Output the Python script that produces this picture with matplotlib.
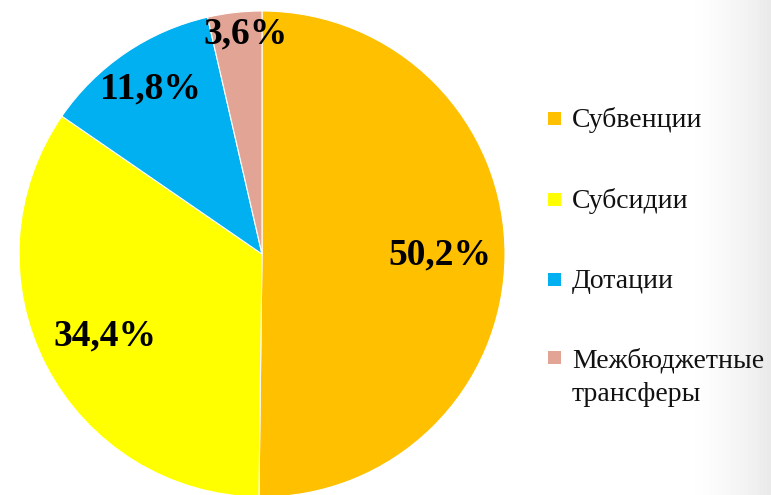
import numpy as np
import matplotlib
matplotlib.use('Agg')
import matplotlib.pyplot as plt
from matplotlib.patches import Rectangle

# Данные
categories = ['Субвенции', 'Субсидии', 'Дотации', 'Межбюджетные\nтрансферы']
shares = [50.2, 34.4, 11.8, 3.6]
pct_labels = ['50,2%', '34,4%', '11,8%', '3,6%']
colors = ['#FFC000', '#FFFF00', '#00B0F0', '#E2A495']
label_dist = [0.73, 0.73, 0.82, 0.91]

plt.rcParams['font.family'] = ['Liberation Serif', 'DejaVu Serif']

W, H = 771, 495
fig = plt.figure(figsize=(W / 100, H / 100), dpi=100)

# лёгкая серая тень у правого края
bg = fig.add_axes([0, 0, 1, 1], zorder=-1)
grad = np.linspace(0, 1, 200)
shade = np.clip((grad - 0.9) / 0.1, 0, 1) ** 1.5
img = np.ones((10, 200, 3)) * (1 - 0.08 * shade)[None, :, None]
bg.imshow(img, extent=[0, 1, 0, 1], aspect='auto')
bg.set_xlim(0, 1)
bg.set_ylim(0, 1)
bg.set_axis_off()

# круговая диаграмма
cx, cy, r = 262, 254, 243
ax = fig.add_axes([(cx - r) / W, (H - cy - r) / H, 2 * r / W, 2 * r / H])
wedges, _ = ax.pie(shares, colors=colors, startangle=90, counterclock=False,
                   radius=1, wedgeprops=dict(edgecolor='white', linewidth=0.8))
ax.set_xlim(-1, 1)
ax.set_ylim(-1, 1)
ax.set_aspect('equal')
ax.set_axis_off()

for w, lab, d in zip(wedges, pct_labels, label_dist):
    ang = np.deg2rad((w.theta1 + w.theta2) / 2)
    x, y = d * np.cos(ang), d * np.sin(ang)
    if lab == '3,6%':
        x += 0.035
    ax.text(x, y, lab, ha='center', va='center',
            fontsize=27, fontweight='bold', color='black')

# легенда справа
leg_y = [118, 199, 279, 357]
sq = 13
for name, c, y in zip(categories, colors, leg_y):
    bg.add_patch(Rectangle((548 / W, 1 - (y + sq / 2) / H), sq / W, sq / H,
                           facecolor=c, edgecolor='none'))
    extra = name.count('\n') * 35
    bg.text(572 / W, 1 - (y + 9 + extra) / H, name, fontsize=20, va='baseline', ha='left',
            linespacing=1.45, color='#111111')

plt.savefig('out.png', dpi=100)
plt.close()
